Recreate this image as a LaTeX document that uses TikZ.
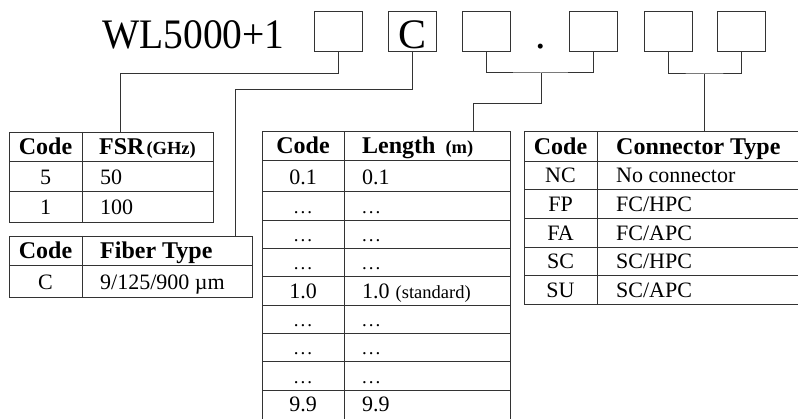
\documentclass[tikz,border=0pt]{standalone}
\usepackage{fontspec}
\setmainfont{Liberation Serif}
\newcommand{\mydots}{{\fontsize{19}{22}\selectfont .\kern0.1em.\kern0.1em.}}
\newcommand{\smalltx}{\fontsize{18.5}{22}\selectfont}
\begin{document}
\begin{tikzpicture}[x=1pt,y=-1pt,
  ln/.style={draw=black!80, line width=1pt},
  digit/.style={draw=black!80, line width=1pt, minimum width=48pt, minimum height=40pt, inner sep=0pt},
  tbl/.style={draw=black!80, line width=1pt, anchor=north west, inner sep=0pt},
  big/.style={font=\fontsize{42}{48}\selectfont, anchor=base, inner sep=0pt},
  hd/.style={font=\fontsize{24}{28}\selectfont\bfseries, anchor=base, inner sep=0pt},
  hdl/.style={hd, anchor=base west},
  tx/.style={font=\fontsize{22}{26}\selectfont, anchor=base, inner sep=0pt},
  txl/.style={tx, anchor=base west}]
\useasboundingbox (0,0) rectangle (798,419);
\fill[white] (0,0) rectangle (798,419);

% title and code boxes
\node[big, anchor=base west, xscale=0.94] (title) at (102,49) {WL5000+1};
\node[digit] (b1) at (338,32) {};
\node[digit] (b2) at (412.5,32) {};
\node[big] (cc) at (412.5,49) {C};
\node[digit] (b3) at (486,32) {};
\node[big] (dot) at (541,49) {.};
\node[digit] (b4) at (593.5,32) {};
\node[digit] (b5) at (668,32) {};
\node[digit] (b6) at (741,32) {};

% FSR table
\node[tbl, minimum width=204pt, minimum height=90pt] (T1) at (9,132) {};
\draw[ln] (82,132) -- (82,222);
\draw[ln] (9,162) -- (213,162) (9,192) -- (213,192);
\node[hd] (t1c) at (45.5,155) {Code};
\node[hdl] (t1h) at (99,155) {FSR\kern2pt{\smalltx (GHz)}};
\node[tx] (t1a) at (45.5,185) {5};
\node[txl] (t1b) at (100,185) {50};
\node[tx] (t1d) at (45.5,215) {1};
\node[txl] (t1e) at (100,215) {100};

% Fiber table
\node[tbl, minimum width=243pt, minimum height=61pt] (T2) at (9,236) {};
\draw[ln] (82,236) -- (82,297);
\draw[ln] (9,266) -- (252,266);
\node[hd] (t2c) at (45.5,259) {Code};
\node[hdl] (t2h) at (100,259) {Fiber Type};
\node[tx] (t2a) at (45.5,290) {C};
\node[txl] (t2b) at (100,290) {9/125/900 µm};

% Length table
\coordinate (T3) at (262,132);
\draw[ln] (262,419) -- (262,132) -- (510,132) -- (510,419);
\draw[ln] (344,132) -- (344,419);
\foreach \yy in {161,192,221,249,277,306,334,362,391}
  \draw[ln] (262,\yy) -- (510,\yy);
\node[hd] (t3c) at (303,154) {Code};
\node[hdl] (t3h) at (362,154) {Length\kern10pt{\smalltx (m)}};
\foreach \yy/\a/\b [count=\i] in {185/{0.1}/{0.1}, 214/{\mydots}/{\mydots}, 242/{\mydots}/{\mydots}, 270/{\mydots}/{\mydots},
   299/{1.0}/{1.0\kern6pt{\smalltx (standard)}}, 327/{\mydots}/{\mydots}, 355/{\mydots}/{\mydots}, 384/{\mydots}/{\mydots}, 412/{9.9}/{9.9}} {
  \node[tx] (t3a\i) at (303,\yy) {\a};
  \node[txl] (t3b\i) at (362,\yy) {\b};
}

% Connector table
\coordinate (T4) at (524,132);
\draw[ln] (798,132) -- (524,132) -- (524,305) -- (798,305);
\draw[ln] (597,132) -- (597,305);
\foreach \yy in {162,190,219,248,276}
  \draw[ln] (524,\yy) -- (798,\yy);
\node[hd] (t4c) at (560.5,155) {Code};
\node[hdl] (t4h) at (616,155) {Connector Type};
\foreach \yy/\a/\b [count=\i] in {183/NC/{No connector}, 212/FP/{FC/HPC}, 241/FA/{FC/APC}, 269/SC/{SC/HPC}, 298/SU/{SC/APC}} {
  \node[tx] (t4a\i) at (560.5,\yy) {\a};
  \node[txl] (t4b\i) at (616,\yy) {\b};
}

% connectors
\coordinate (j1) at (120,74);
\draw[ln] (b1.south) |- (j1) -- (j1 |- T1.north);
\coordinate (j2) at (235,90);
\draw[ln] (b2.south) |- (j2) -- (j2 |- T2.north);
\coordinate (j3) at (541,73);
\coordinate (j3b) at (473,104);
\draw[ln] (b3.south) |- (j3) -| (b4.south);
\draw[ln] (j3) |- (j3b) -- (j3b |- T3);
\coordinate (j5) at (704,74);
\draw[ln] (b5.south) |- (j5) -| (b6.south);
\draw[ln] (j5) -- (j5 |- T4);
\end{tikzpicture}
\end{document}
